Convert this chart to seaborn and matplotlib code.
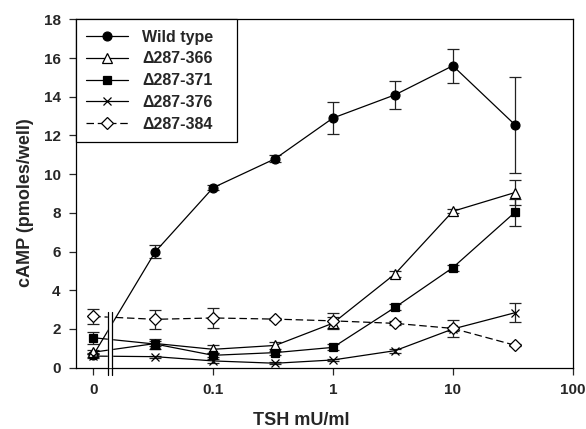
import matplotlib
matplotlib.use("Agg")
import matplotlib.pyplot as plt
import seaborn as sns
import pandas as pd
import numpy as np

# ---- data ----
doses = [0, 0.033, 0.1, 0.33, 1, 3.3, 10, 33]
series_names = ["Wild type", "\u0394287-366", "\u0394287-371", "\u0394287-376", "\u0394287-384"]
wild_type = [0.65, 6.0, 9.3, 10.8, 12.9, 14.1, 15.6, 12.55]
wild_type_err = [0.1, 0.35, 0.12, 0.18, 0.85, 0.73, 0.87, 2.47]
d366 = [0.8, 1.25, 0.95, 1.15, 2.3, 4.85, 8.08, 9.05]
d366_err = [0.1, 0.15, 0.2, 0.2, 0.3, 0.15, 0.1, 0.65]
d371 = [1.55, 1.22, 0.64, 0.78, 1.05, 3.12, 5.17, 8.03]
d371_err = [0.3, 0.25, 0.1, 0.1, 0.15, 0.15, 0.15, 0.7]
d376 = [0.6, 0.57, 0.35, 0.23, 0.4, 0.88, 2.0, 2.84]
d376_err = [0.1, 0.05, 0.1, 0.05, 0.05, 0.1, 0.1, 0.5]
d384 = [2.65, 2.5, 2.57, 2.51, 2.42, 2.29, 2.03, 1.16]
d384_err = [0.4, 0.48, 0.5, 0.05, 0.39, 0.1, 0.42, 0.05]
xtick_vals = [0.01, 0.1, 1, 10, 100]
xtick_labels = ["0", "0.1", "1", "10", "100"]
yticks = [0, 2, 4, 6, 8, 10, 12, 14, 16, 18]

ZERO_POS = 0.01
x_plot = [ZERO_POS if d == 0 else d for d in doses]

values = [wild_type, d366, d371, d376, d384]
errors = [wild_type_err, d366_err, d371_err, d376_err, d384_err]
styles = [
    dict(marker="o", markerfacecolor="black", markersize=6.4, linestyle="-"),
    dict(marker="^", markerfacecolor="white", markersize=6.8, linestyle="-"),
    dict(marker="s", markerfacecolor="black", markersize=5.2, linestyle="-"),
    dict(marker="x", markerfacecolor="black", markersize=6.2, linestyle="-"),
    dict(marker="D", markerfacecolor="white", markersize=6.2, linestyle=(0, (6, 3))),
]

sns.set_style("ticks")
plt.rcParams["font.family"] = ["Liberation Sans", "DejaVu Sans"]
plt.rcParams["font.weight"] = "bold"

fig = plt.figure(figsize=(5.86, 4.29), dpi=100)
ax = fig.add_axes([76 / 586, 1 - 367.7 / 429, (572.7 - 76) / 586, (367.7 - 19.3) / 429])

handles = []
for name, vals, errs, st in zip(series_names, values, errors, styles):
    df = pd.DataFrame({"x": x_plot, "y": vals})
    ax.errorbar(x_plot, vals, yerr=errs, fmt="none", ecolor="#222222",
                elinewidth=0.9, capsize=4, capthick=0.9, zorder=2)
    sns.lineplot(data=df, x="x", y="y", ax=ax, color="black", linewidth=0.9,
                 markeredgecolor="black", markeredgewidth=0.9, zorder=3,
                 sort=False, **st)
    handles.append(ax.lines[-1])

ax.set_xscale("log")
ax.set_xlim(10 ** -2.144, 100)
ax.set_ylim(0, 18)
ax.set_xticks(xtick_vals)
ax.set_xticklabels(xtick_labels)
ax.xaxis.set_minor_locator(matplotlib.ticker.NullLocator())
ax.set_yticks(yticks)
ax.tick_params(axis="both", direction="out", length=5, width=0.9, labelsize=11, pad=6)
for lab in ax.get_xticklabels() + ax.get_yticklabels():
    lab.set_fontweight("bold")
for sp in ax.spines.values():
    sp.set_linewidth(0.9)
    sp.set_color("black")

ax.set_xlabel("TSH mU/ml", fontsize=13, fontweight="bold")
ax.set_ylabel("cAMP (pmoles/well)", fontsize=13, fontweight="bold")
ax.xaxis.set_label_coords(0.453, -0.127)
ax.yaxis.set_label_coords(-0.085, 0.474)

# axis break marks
bx1, bx2 = 0.0132, 0.01424
ax.fill_between([bx1, bx2], [0.05, 0.05], [2.88, 2.88], color="white", zorder=4, clip_on=False)
for bx in (bx1, bx2):
    ax.plot([bx, bx], [-0.38, 2.88], color="black", linewidth=0.9, zorder=5, clip_on=False)

leg = ax.legend(handles, series_names, loc="upper left", bbox_to_anchor=(0, 0, 0.324, 1),
                mode="expand", borderaxespad=0, fancybox=False, edgecolor="black",
                framealpha=1, prop={"size": 11.5, "weight": "bold"}, handlelength=2.6,
                labelspacing=0.42, borderpad=0.65, handletextpad=0.9)
leg.get_frame().set_linewidth(0.9)

fig.savefig("out.png", dpi=100)
